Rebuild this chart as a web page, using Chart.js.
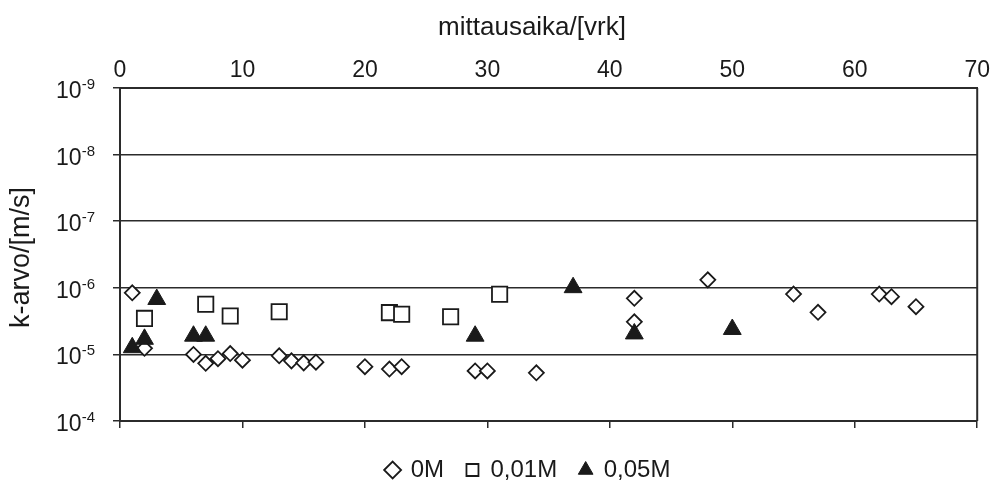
<!DOCTYPE html>
<html>
<head>
<meta charset="utf-8">
<script src="https://cdn.jsdelivr.net/npm/chart.js@4.4.1/dist/chart.umd.min.js"></script>
<style>
  html, body { margin: 0; padding: 0; background: #ffffff; }
  #wrap { width: 994px; height: 482px; }
</style>
</head>
<body>
<div id="wrap"><canvas id="c" width="994" height="482"></canvas></div>
<script>
// Measured hydraulic conductivity (k) against elapsed time, three solution strengths
const seriesNames = ['0M', '0,01M', '0,05M'];

const days0M = [1, 2, 6, 7, 8, 9, 10, 13, 14, 15, 16, 20, 22, 23, 29, 30, 34, 42, 42, 48, 55, 57, 62, 63, 65];
const k0M = [1.19e-6, 8.1e-6, 1.0e-5, 1.36e-5, 1.16e-5, 9.7e-6, 1.22e-5, 1.05e-5, 1.25e-5, 1.34e-5, 1.31e-5,
             1.53e-5, 1.66e-5, 1.53e-5, 1.77e-5, 1.77e-5, 1.89e-5, 1.44e-6, 3.24e-6, 7.6e-7, 1.24e-6,
             2.33e-6, 1.24e-6, 1.36e-6, 1.92e-6];

const days001M = [2, 7, 9, 13, 22, 23, 27, 31];
const k001M = [2.88e-6, 1.77e-6, 2.65e-6, 2.29e-6, 2.36e-6, 2.5e-6, 2.72e-6, 1.25e-6];

const days005M = [1, 2, 3, 6, 7, 29, 37, 42, 50];
const k005M = [7.9e-6, 5.9e-6, 1.49e-6, 5.3e-6, 5.3e-6, 5.3e-6, 9.9e-7, 4.9e-6, 4.2e-6];

const xTicks = [0, 10, 20, 30, 40, 50, 60, 70];
const yTickExponents = [-9, -8, -7, -6, -5, -4];
const xTitle = 'mittausaika/[vrk]';
const yTitle = 'k-arvo/[m/s]';

const FONT = '"Liberation Sans", Arial, Helvetica, sans-serif';
const INK = '#1a1a1a';
const LINE = '#2b2b2b';

const toPoints = (xs, ys) => xs.map((x, i) => ({ x: x, y: ys[i] }));

// Axis titles, superscripted decade labels and the right-hand frame edge
const decorations = {
  id: 'decorations',
  afterDraw(chart) {
    const { ctx, chartArea: a, scales } = chart;
    const y = scales.y;
    ctx.save();

    ctx.strokeStyle = LINE;
    ctx.lineWidth = 2;
    ctx.beginPath();
    ctx.moveTo(a.right, a.top);
    ctx.lineTo(a.right, a.bottom);
    ctx.stroke();

    ctx.fillStyle = INK;
    ctx.textBaseline = 'alphabetic';
    const labelRight = 95;
    yTickExponents.forEach(function (e) {
      const py = y.getPixelForValue(Math.pow(10, e));
      const sup = String(e);
      ctx.font = '15px ' + FONT;
      const wSup = ctx.measureText(sup).width;
      ctx.textAlign = 'left';
      ctx.fillText(sup, labelRight - wSup, py + 1);
      ctx.font = '23px ' + FONT;
      ctx.textAlign = 'right';
      ctx.fillText('10', labelRight - wSup, py + 10);
    });

    ctx.font = '26px ' + FONT;
    ctx.textAlign = 'center';
    ctx.fillText(xTitle, 532, 35);

    ctx.font = '27px ' + FONT;
    ctx.translate(22, (a.top + a.bottom) / 2 + 3);
    ctx.rotate(-Math.PI / 2);
    ctx.textBaseline = 'middle';
    ctx.fillText(yTitle, 0, 0);
    ctx.restore();
  }
};

new Chart(document.getElementById('c'), {
  type: 'scatter',
  data: {
    datasets: [
      {
        label: seriesNames[0],
        data: toPoints(days0M, k0M),
        pointStyle: 'rectRot',
        pointRadius: 7.5,
        pointHoverRadius: 7.5,
        borderWidth: 1.8,
        borderColor: INK,
        backgroundColor: '#ffffff',
        order: 2
      },
      {
        label: seriesNames[1],
        data: toPoints(days001M, k001M),
        pointStyle: 'rect',
        pointRadius: 10.8,
        pointHoverRadius: 10.8,
        borderWidth: 1.8,
        borderColor: INK,
        backgroundColor: '#ffffff',
        order: 1
      },
      {
        label: seriesNames[2],
        data: toPoints(days005M, k005M),
        pointStyle: 'triangle',
        pointRadius: 10.3,
        pointHoverRadius: 10.3,
        borderWidth: 1,
        borderColor: INK,
        backgroundColor: INK,
        order: 0
      }
    ]
  },
  options: {
    responsive: false,
    animation: false,
    devicePixelRatio: 1,
    layout: { padding: { left: 79, right: 16, top: 0, bottom: -10 } },
    plugins: {
      tooltip: { enabled: false },
      legend: {
        position: 'bottom',
        labels: {
          usePointStyle: true,
          boxWidth: 12,
          boxHeight: 12,
          padding: 22.5,
          color: INK,
          font: { family: FONT, size: 24 },
          sort: (a, b) => a.datasetIndex - b.datasetIndex
        }
      }
    },
    scales: {
      x: {
        type: 'linear',
        position: 'top',
        min: 0,
        max: 70,
        afterBuildTicks: (s) => { s.ticks = xTicks.map(v => ({ value: v })); },
        afterFit: (s) => { s.height = 88; },
        ticks: { padding: 4, color: INK, font: { family: FONT, size: 23 }, maxRotation: 0 },
        grid: { display: true, drawOnChartArea: false, drawTicks: false },
        border: { display: true, color: LINE, width: 2 }
      },
      xBottom: {
        type: 'linear',
        position: 'bottom',
        min: 0,
        max: 70,
        afterBuildTicks: (s) => { s.ticks = xTicks.map(v => ({ value: v })); },
        afterFit: (s) => { s.height = 14.5; },
        ticks: { display: false },
        grid: { display: true, drawOnChartArea: false, drawTicks: true, tickLength: 7, color: LINE, lineWidth: 1.5 },
        border: { display: true, color: LINE, width: 2 }
      },
      y: {
        type: 'logarithmic',
        reverse: true,
        min: 1e-9,
        max: 1e-4,
        afterBuildTicks: (s) => { s.ticks = yTickExponents.map(e => ({ value: Math.pow(10, e) })); },
        afterFit: (s) => { s.width = 41; },
        ticks: { display: false },
        grid: { display: true, color: LINE, lineWidth: 1.5, drawTicks: true, tickLength: 7, tickColor: LINE },
        border: { display: true, color: LINE, width: 2 }
      }
    }
  },
  plugins: [decorations]
});
</script>
</body>
</html>
